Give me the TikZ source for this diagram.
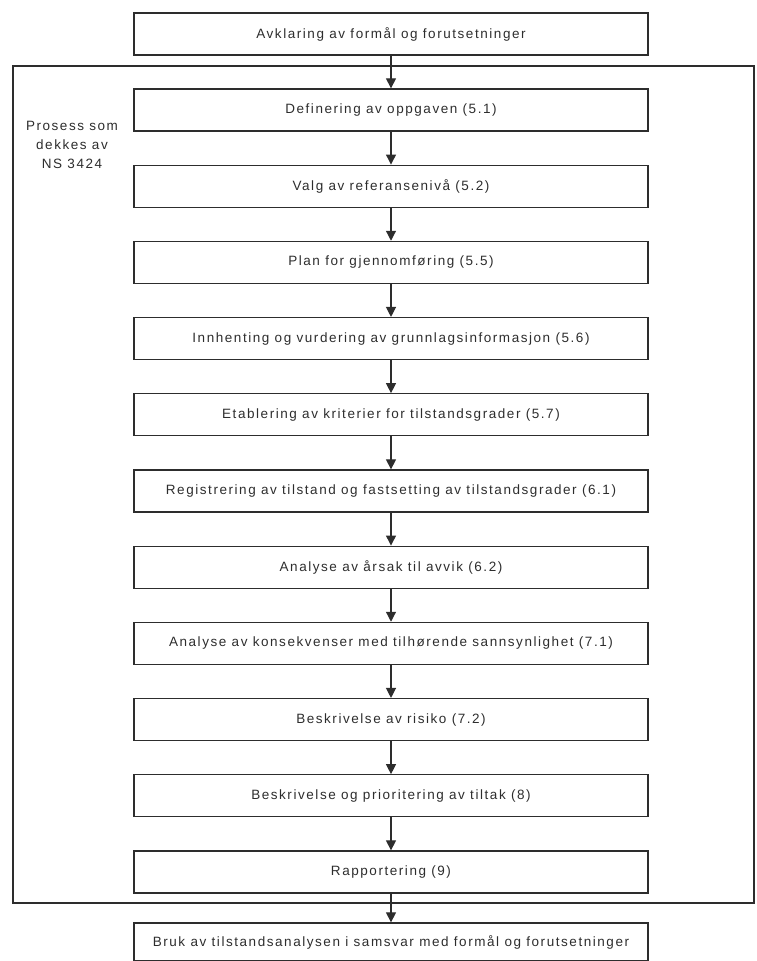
\documentclass[tikz,border=0pt]{standalone}
\usepackage{fontspec}
\setmainfont{Liberation Sans}
\newfontfamily\boxfont[LetterSpace=11.5]{Liberation Sans}
\usepackage{tikz}
\usetikzlibrary{arrows.meta}

\definecolor{inkgray}{RGB}{45,45,45}

\tikzset{
  stepbox/.style={draw=inkgray, line width=1.3pt, minimum width=514pt,
    minimum height=42pt, inner sep=0pt, text=inkgray, font=\boxfont\fontsize{13.5}{15}\selectfont},
  flow/.style={draw=inkgray, line width=1.2pt, -{Triangle[width=10pt,length=10pt]}},
}

\begin{document}
\begin{tikzpicture}[x=1pt,y=-1pt]
  \useasboundingbox (0,0) rectangle (756,961);

  % ramme rundt prosessen
  \draw[inkgray, line width=2.6pt] (13,66) rectangle (754,903);
  \node[text=inkgray, align=center, font=\boxfont\fontsize{13.5}{19}\selectfont] (ramme) at (72,145)
    {Prosess som\\dekkes av\\NS 3424};

  \node[stepbox] (b0) at (391,34) {Avklaring av formål og forutsetninger};

  \foreach \txt [count=\i] in {
      Definering av oppgaven (5.1),
      Valg av referansenivå (5.2),
      Plan for gjennomføring (5.5),
      Innhenting og vurdering av grunnlagsinformasjon (5.6),
      Etablering av kriterier for tilstandsgrader (5.7),
      Registrering av tilstand og fastsetting av tilstandsgrader (6.1),
      Analyse av årsak til avvik (6.2),
      Analyse av konsekvenser med tilhørende sannsynlighet (7.1),
      Beskrivelse av risiko (7.2),
      Beskrivelse og prioritering av tiltak (8),
      Rapportering (9)}
    \node[stepbox] (b\i) at (391,{110+76.2*(\i-1)}) {\txt};

  \node[stepbox, minimum height=38pt] (b12) at (391,942) {Bruk av tilstandsanalysen i samsvar med formål og forutsetninger};

  % piler
  \foreach \i [evaluate=\i as \j using int(\i+1)] in {0,...,11}
    \draw[flow] (b\i) -- (b\j);
\end{tikzpicture}
\end{document}
